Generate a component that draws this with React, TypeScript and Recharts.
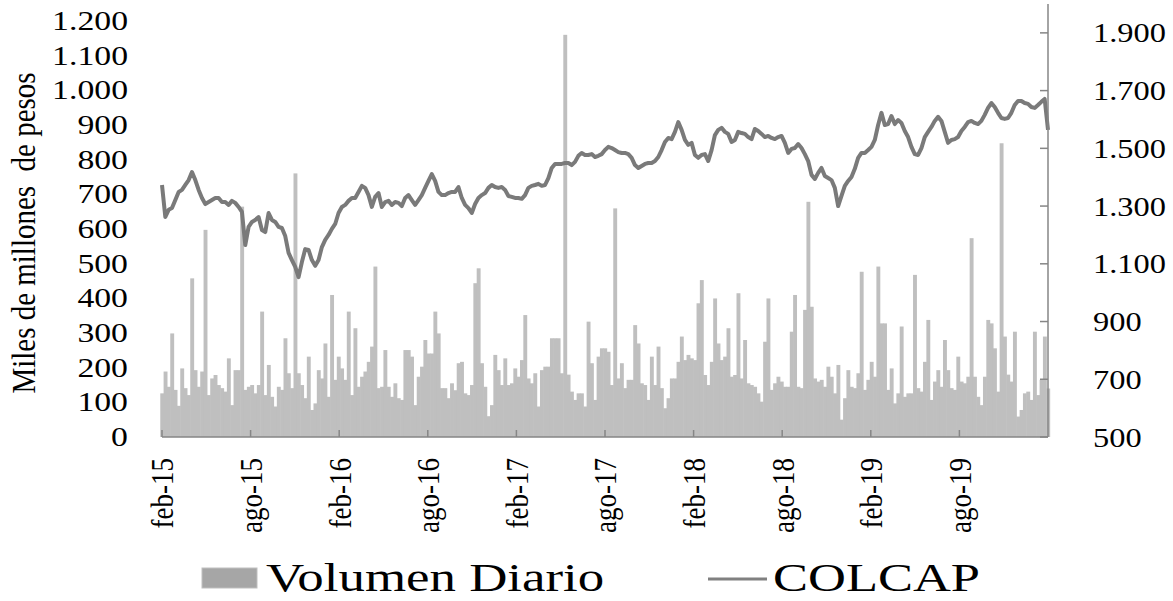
import { ComposedChart, Bar, Line, XAxis, YAxis } from 'recharts';

// Volumen diario (miles de millones de pesos), aprox. un punto por semana desde feb-15
const volumen = [
  126, 189, 145, 299, 136, 90, 198, 141, 121, 458, 193, 145, 189, 598, 121,
  169, 179, 150, 141, 131, 227, 92, 193, 193, 665, 136, 145, 150, 126, 150,
  362, 121, 208, 116, 88, 145, 136, 285, 184, 141, 761, 184, 150, 112, 232,
  78, 97, 193, 169, 270, 116, 410, 165, 232, 198, 165, 362, 121, 314, 145,
  174, 189, 217, 261, 492, 141, 145, 251, 145, 116, 155, 112, 107, 251, 251,
  232, 92, 174, 203, 280, 241, 241, 362, 299, 141, 141, 112, 155, 135, 213,
  217, 126, 121, 150, 444, 487, 213, 145, 60, 92, 237, 193, 150, 227, 150,
  155, 198, 174, 222, 352, 169, 155, 184, 88, 193, 203, 203, 285, 285, 285,
  184, 1161, 180, 131, 107, 126, 126, 88, 333, 213, 107, 232, 256, 256, 246,
  150, 660, 169, 213, 141, 165, 165, 323, 270, 155, 150, 107, 232, 150, 261,
  141, 83, 112, 169, 169, 217, 290, 222, 237, 227, 222, 386, 453, 179, 150,
  217, 400, 270, 222, 232, 314, 174, 179, 415, 169, 280, 155, 150, 145, 126,
  102, 275, 400, 136, 155, 174, 160, 145, 145, 304, 410, 145, 141, 367, 679,
  376, 169, 160, 165, 145, 203, 174, 126, 208, 50, 112, 193, 145, 141, 184,
  477, 136, 165, 217, 174, 492, 328, 328, 136, 198, 97, 126, 319, 116, 126,
  126, 468, 141, 131, 217, 338, 107, 160, 193, 145, 280, 193, 141, 136, 232,
  160, 155, 174, 574, 174, 116, 92, 174, 338, 328, 256, 131, 848, 290, 180,
  160, 304, 59, 78, 126, 131, 107, 304, 121, 165, 290, 140,
];

// Índice COLCAP, mismos puntos
const colcap = [
  1373, 1262, 1287, 1293, 1321, 1349, 1356, 1373, 1390, 1418, 1390, 1356, 1328, 1307, 1314,
  1321, 1328, 1328, 1314, 1314, 1304, 1318, 1311, 1297, 1280, 1165, 1228, 1245, 1252, 1262,
  1217, 1210, 1276, 1252, 1245, 1228, 1224, 1196, 1138, 1113, 1089, 1054, 1106, 1151, 1148,
  1113, 1093, 1113, 1158, 1183, 1200, 1221, 1238, 1276, 1297, 1304, 1318, 1328, 1328, 1349,
  1370, 1363, 1338, 1297, 1332, 1345, 1297, 1314, 1318, 1304, 1314, 1311, 1300, 1328, 1338,
  1321, 1304, 1321, 1338, 1363, 1387, 1411, 1387, 1349, 1338, 1338, 1345, 1349, 1349, 1366,
  1328, 1304, 1293, 1276, 1307, 1328, 1338, 1345, 1363, 1373, 1366, 1363, 1366, 1356, 1335,
  1332, 1328, 1328, 1325, 1338, 1363, 1370, 1373, 1377, 1370, 1373, 1397, 1432, 1446, 1446,
  1446, 1449, 1449, 1442, 1453, 1474, 1484, 1477, 1477, 1480, 1470, 1474, 1480, 1494, 1505,
  1501, 1494, 1487, 1484, 1484, 1480, 1467, 1442, 1432, 1439, 1446, 1449, 1449, 1456, 1470,
  1494, 1522, 1536, 1532, 1557, 1591, 1564, 1529, 1512, 1519, 1477, 1467, 1477, 1480, 1456,
  1494, 1546, 1564, 1571, 1557, 1550, 1522, 1529, 1557, 1553, 1550, 1539, 1532, 1567, 1560,
  1550, 1539, 1543, 1536, 1532, 1539, 1543, 1519, 1484, 1498, 1501, 1515, 1501, 1480, 1456,
  1408, 1394, 1415, 1432, 1404, 1397, 1390, 1363, 1300, 1335, 1370, 1387, 1401, 1429, 1467,
  1484, 1484, 1494, 1505, 1529, 1581, 1623, 1581, 1584, 1612, 1584, 1598, 1588, 1560, 1539,
  1505, 1480, 1477, 1501, 1539, 1557, 1574, 1595, 1609, 1595, 1557, 1519, 1529, 1532, 1539,
  1560, 1574, 1591, 1595, 1588, 1584, 1595, 1616, 1640, 1657, 1643, 1623, 1605, 1602, 1605,
  1623, 1650, 1664, 1664, 1657, 1654, 1643, 1640, 1650, 1661, 1671, 1564,
];

const meses = ['feb-15', 'ago-15', 'feb-16', 'ago-16', 'feb-17', 'ago-17', 'feb-18', 'ago-18', 'feb-19', 'ago-19'];
const volumenTicks = [0, 100, 200, 300, 400, 500, 600, 700, 800, 900, 1000, 1100, 1200];
const colcapTicks = [500, 700, 900, 1100, 1300, 1500, 1700, 1900];

const N = volumen.length;
const data = volumen.map((v, k) => ({ k, volumen: v, colcap: colcap[k] }));
// the axis covers 60 months (feb-15 .. feb-20)
const mesTicks = meses.map((_, i) => (i * 6 * (N - 1)) / 60);

const FONT = '"Liberation Serif", "Times New Roman", serif';
const AXIS = '#868686';
const BAR = '#bfbfbf';

function fmt(n: number) {
  if (n < 1000) return String(n);
  return `${Math.floor(n / 1000)}.${String(n % 1000).padStart(3, '0')}`;
}

function LeftTick({ x, y, payload }: any) {
  return (
    <g transform={`translate(${x - 34},${y}) scale(1.25,1)`}>
      <text textAnchor="end" dominantBaseline="central" fontSize={27} fontFamily={FONT} fill="#000">
        {fmt(payload.value)}
      </text>
    </g>
  );
}

function RightTick({ x, y, payload }: any) {
  return (
    <g>
      <line x1={x - 8} y1={y} x2={x} y2={y} stroke={AXIS} strokeWidth={1.5} />
      <g transform={`translate(${x + 45},${y}) scale(1.2,1)`}>
        <text textAnchor="start" dominantBaseline="central" fontSize={27} fontFamily={FONT} fill="#000">
          {fmt(payload.value)}
        </text>
      </g>
    </g>
  );
}

function BottomTick({ x, y, index }: any) {
  return (
    <g>
      <line x1={x} y1={y} x2={x} y2={y - 7} stroke={AXIS} strokeWidth={1.5} />
      <g transform={`translate(${x},${y + 21}) scale(1.2,1) rotate(-90)`}>
        <text textAnchor="end" dominantBaseline="central" fontSize={27} fontFamily={FONT} fill="#000">
          {meses[index]}
        </text>
      </g>
    </g>
  );
}

// bars are daily and touch each other: widen slightly so no white gaps show
function VolBar({ x, y, width, height }: any) {
  if (!height) return null;
  return <rect x={x - 0.4} y={y} width={width + 0.9} height={height} fill={BAR} />;
}

export default function App() {
  return (
    <div style={{ position: 'absolute', left: 0, top: 0, width: 1173, height: 601, background: '#fff' }}>
      <ComposedChart width={1173} height={601} data={data} margin={{ top: 4, right: 0, bottom: 0, left: 0 }}>
        <XAxis
          dataKey="k"
          type="number"
          domain={[0, N - 1]}
          ticks={mesTicks}
          interval={0}
          height={164}
          tickSize={0}
          tickMargin={0}
          tickLine={false}
          axisLine={{ stroke: AXIS, strokeWidth: 1.5 }}
          tick={<BottomTick />}
        />
        <YAxis
          yAxisId="vol"
          orientation="left"
          width={162}
          domain={[0, 1250]}
          ticks={volumenTicks}
          interval={0}
          tickSize={0}
          tickMargin={0}
          axisLine={false}
          tickLine={false}
          tick={<LeftTick />}
        />
        <YAxis
          yAxisId="idx"
          orientation="right"
          width={125}
          domain={[500, 2000]}
          ticks={colcapTicks}
          interval={0}
          tickSize={0}
          tickMargin={0}
          tickLine={false}
          axisLine={{ stroke: AXIS, strokeWidth: 1.5 }}
          tick={<RightTick />}
        />
        <Bar yAxisId="vol" dataKey="volumen" fill={BAR} shape={<VolBar />} isAnimationActive={false} />
        <Line
          yAxisId="idx"
          dataKey="colcap"
          type="linear"
          stroke="#7a7a7a"
          strokeWidth={4}
          dot={false}
          strokeLinejoin="round"
          isAnimationActive={false}
        />
      </ComposedChart>
      <svg width={1173} height={601} style={{ position: 'absolute', left: 0, top: 0, pointerEvents: 'none' }}>
        <g transform="translate(24,233) scale(1.18,1) rotate(-90)">
          <text
            textAnchor="middle"
            dominantBaseline="central"
            fontSize={29}
            fontFamily={FONT}
            fill="#000"
            style={{ whiteSpace: 'pre' }}
          >
            {'Miles de millones  de pesos'}
          </text>
        </g>
        <rect x={202} y={568} width={55} height={20} fill="#a6a6a6" stroke="#bfbfbf" strokeWidth={1} />
        <g transform="translate(266,591) scale(1.29,1)">
          <text fontSize={41} fontFamily={FONT} fill="#000">Volumen Diario</text>
        </g>
        <line x1={708} y1={579} x2={767} y2={579} stroke="#808080" strokeWidth={3} />
        <g transform="translate(773,591) scale(1.28,1)">
          <text fontSize={41} fontFamily={FONT} fill="#000">COLCAP</text>
        </g>
      </svg>
    </div>
  );
}
